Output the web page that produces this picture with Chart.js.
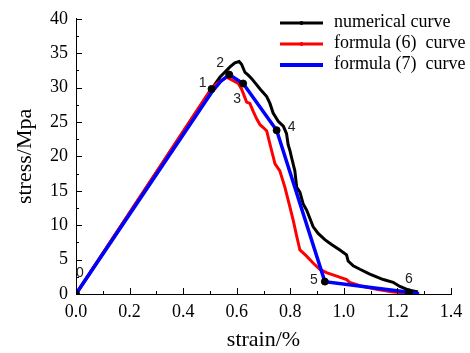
<!DOCTYPE html>
<html>
<head>
<meta charset="utf-8">
<script src="https://cdn.jsdelivr.net/npm/chart.js@4/dist/chart.umd.min.js"></script>
<style>
  html, body { margin: 0; padding: 0; background: #fff; }
  #wrap { width: 470px; height: 353px; }
</style>
</head>
<body>
<div id="wrap"><canvas id="c" width="470" height="353"></canvas></div>
<script>
// ---- data ----
const numericalX = [0, 0.506, 0.537, 0.575, 0.593, 0.609, 0.618, 0.631, 0.643, 0.656, 0.687, 0.712, 0.724, 0.736, 0.755, 0.774, 0.786, 0.792, 0.799, 0.805, 0.817, 0.824, 0.836, 0.848, 0.861, 0.873, 0.885, 0.904, 0.929, 0.954, 0.985, 1.010, 1.016, 1.035, 1.060, 1.097, 1.147, 1.184, 1.209, 1.240, 1.277];
const numericalY = [0, 29.8, 31.5, 33.0, 33.6, 33.8, 33.4, 32.2, 31.8, 31.3, 29.8, 28.7, 27.7, 26.3, 25.1, 24.4, 23.3, 21.7, 20.8, 19.8, 17.9, 15.5, 14.8, 13.1, 12.2, 11.0, 9.8, 8.8, 7.9, 7.2, 6.4, 5.7, 4.8, 4.1, 3.6, 2.9, 2.1, 1.7, 1.1, 0.6, 0.3];

const formula6X = [0, 0.506, 0.530, 0.562, 0.587, 0.606, 0.618, 0.637, 0.649, 0.662, 0.674, 0.687, 0.699, 0.712, 0.724, 0.743, 0.761, 0.780, 0.799, 0.811, 0.824, 0.836, 0.861, 0.885, 0.910, 0.935, 0.973, 1.010, 1.022, 1.060, 1.122, 1.184, 1.271];
const formula6Y = [0, 29.9, 30.7, 31.5, 31.0, 30.6, 29.8, 27.9, 27.7, 26.5, 25.5, 24.6, 24.2, 23.7, 21.8, 18.9, 17.9, 15.5, 12.6, 10.7, 8.4, 6.4, 5.5, 4.5, 3.6, 3.1, 2.6, 2.1, 1.7, 1.2, 0.7, 0.3, 0];

const formula7X = [0, 0.506, 0.540, 0.572, 0.624, 0.749, 0.929, 1.243, 1.281];
const formula7Y = [0, 29.3, 30.9, 31.9, 30.6, 23.8, 1.8, 0.24, 0];

const keyLabels = ['0', '1', '2', '3', '4', '5', '6'];
const keyX = [0, 0.506, 0.572, 0.624, 0.749, 0.929, 1.243];
const keyY = [0, 29.8, 31.9, 30.6, 23.8, 1.8, 0.24];

const seriesNames = ['numerical curve', 'formula (6)  curve', 'formula (7)  curve'];
const xTicks = [0, 0.2, 0.4, 0.6, 0.8, 1.0, 1.2, 1.4];
const yTicks = [0, 5, 10, 15, 20, 25, 30, 35, 40];

// ---- style ----
const SERIF = "'Liberation Serif', 'Times New Roman', serif";
const SANS = "'Liberation Sans', Arial, sans-serif";
const keyLabelOffsets = [[4, -21], [-9, -6], [-9, -11], [-6, 16], [15, -3], [-11, -1], [0, -13]];

function pts(xs, ys) { return xs.map((x, i) => ({ x: x, y: ys[i] })); }

const axesPlugin = {
  id: 'inwardTicks',
  afterDraw(chart) {
    const ctx = chart.ctx;
    const xs = chart.scales.x, ys = chart.scales.y;
    const a = chart.chartArea;
    ctx.save();
    ctx.strokeStyle = '#000';
    ctx.lineWidth = 1;
    ctx.beginPath();
    for (let v = 0; v <= 1.4001; v += 0.1) {
      const major = Math.abs(Math.round(v * 10) % 2) === 0;
      const px = Math.round(xs.getPixelForValue(v)) + 0.5;
      ctx.moveTo(px, a.bottom);
      ctx.lineTo(px, a.bottom - (major ? 6 : 3));
    }
    for (let v = 0; v <= 40.001; v += 2.5) {
      const major = Math.abs(Math.round(v * 2) % 2) === 0;
      const py = Math.round(ys.getPixelForValue(v)) + 0.5;
      ctx.moveTo(a.left, py);
      ctx.lineTo(a.left + (major ? 6 : 3), py);
    }
    ctx.stroke();

    // key point labels
    ctx.fillStyle = '#222';
    ctx.font = '14px ' + SANS;
    ctx.textAlign = 'center';
    ctx.textBaseline = 'middle';
    keyLabels.forEach((t, i) => {
      const px = xs.getPixelForValue(keyX[i]) + keyLabelOffsets[i][0];
      const py = ys.getPixelForValue(keyY[i]) + keyLabelOffsets[i][1];
      ctx.fillText(t, px, py);
    });

    // legend
    const colors = ['#000000', '#ff0000', '#0000ff'];
    const widths = [3, 3, 4];
    const lx0 = 280, lx1 = 323, tx = 334;
    const rowY = [23, 44, 65];
    ctx.textAlign = 'left';
    ctx.font = '18px ' + SERIF;
    ctx.fillStyle = '#000';
    seriesNames.forEach((name, i) => {
      ctx.strokeStyle = colors[i];
      ctx.lineWidth = widths[i];
      ctx.beginPath();
      ctx.moveTo(lx0, rowY[i]);
      ctx.lineTo(lx1, rowY[i]);
      ctx.stroke();
      ctx.fillStyle = colors[i];
      ctx.beginPath();
      ctx.arc((lx0 + lx1) / 2, rowY[i], 2, 0, Math.PI * 2);
      ctx.fill();
      ctx.fillStyle = '#000';
      ctx.fillText(name, tx, rowY[i] - 1);
    });
    ctx.restore();
  }
};

new Chart(document.getElementById('c'), {
  type: 'line',
  data: {
    datasets: [
      { label: 'key points', data: pts(keyX, keyY), showLine: false, pointRadius: 3.5,
        pointBackgroundColor: '#000', pointBorderColor: '#000', order: 0 },
      { label: seriesNames[2], data: pts(formula7X, formula7Y), borderColor: '#0000ff',
        borderWidth: 3.5, pointRadius: 0, tension: 0, order: 1 },
      { label: seriesNames[1], data: pts(formula6X, formula6Y), borderColor: '#ff0000',
        borderWidth: 3, pointRadius: 0, tension: 0, order: 2 },
      { label: seriesNames[0], data: pts(numericalX, numericalY), borderColor: '#000000',
        borderWidth: 3, pointRadius: 0, tension: 0, order: 3 }
    ]
  },
  options: {
    responsive: false,
    animation: false,
    layout: { padding: { left: 0, right: 19, top: 16, bottom: 0 } },
    plugins: { legend: { display: false }, tooltip: { enabled: false } },
    scales: {
      x: {
        type: 'linear', min: 0, max: 1.4,
        afterBuildTicks(s) { s.ticks = xTicks.map(v => ({ value: v })); },
        afterFit(s) { s.height = 59; },
        grid: { drawOnChartArea: false, drawTicks: false },
        border: { display: true, color: '#000', width: 1 },
        ticks: { color: '#000', padding: 7, font: { family: SERIF, size: 18 },
          callback: v => Number(v).toFixed(1) },
        title: { display: true, text: 'strain/%', color: '#000',
          font: { family: SERIF, size: 22 }, padding: { top: 4, bottom: 0 } }
      },
      y: {
        type: 'linear', min: 0, max: 40,
        afterBuildTicks(s) { s.ticks = yTicks.map(v => ({ value: v })); },
        afterFit(s) { s.width = 76; },
        grid: { drawOnChartArea: false, drawTicks: false },
        border: { display: true, color: '#000', width: 1 },
        ticks: { color: '#000', padding: 8, font: { family: SERIF, size: 18 } },
        title: { display: true, text: 'stress/Mpa', color: '#000',
          font: { family: SERIF, size: 22 }, padding: { top: 12, bottom: 0 } }
      }
    }
  },
  plugins: [axesPlugin]
});
</script>
</body>
</html>
